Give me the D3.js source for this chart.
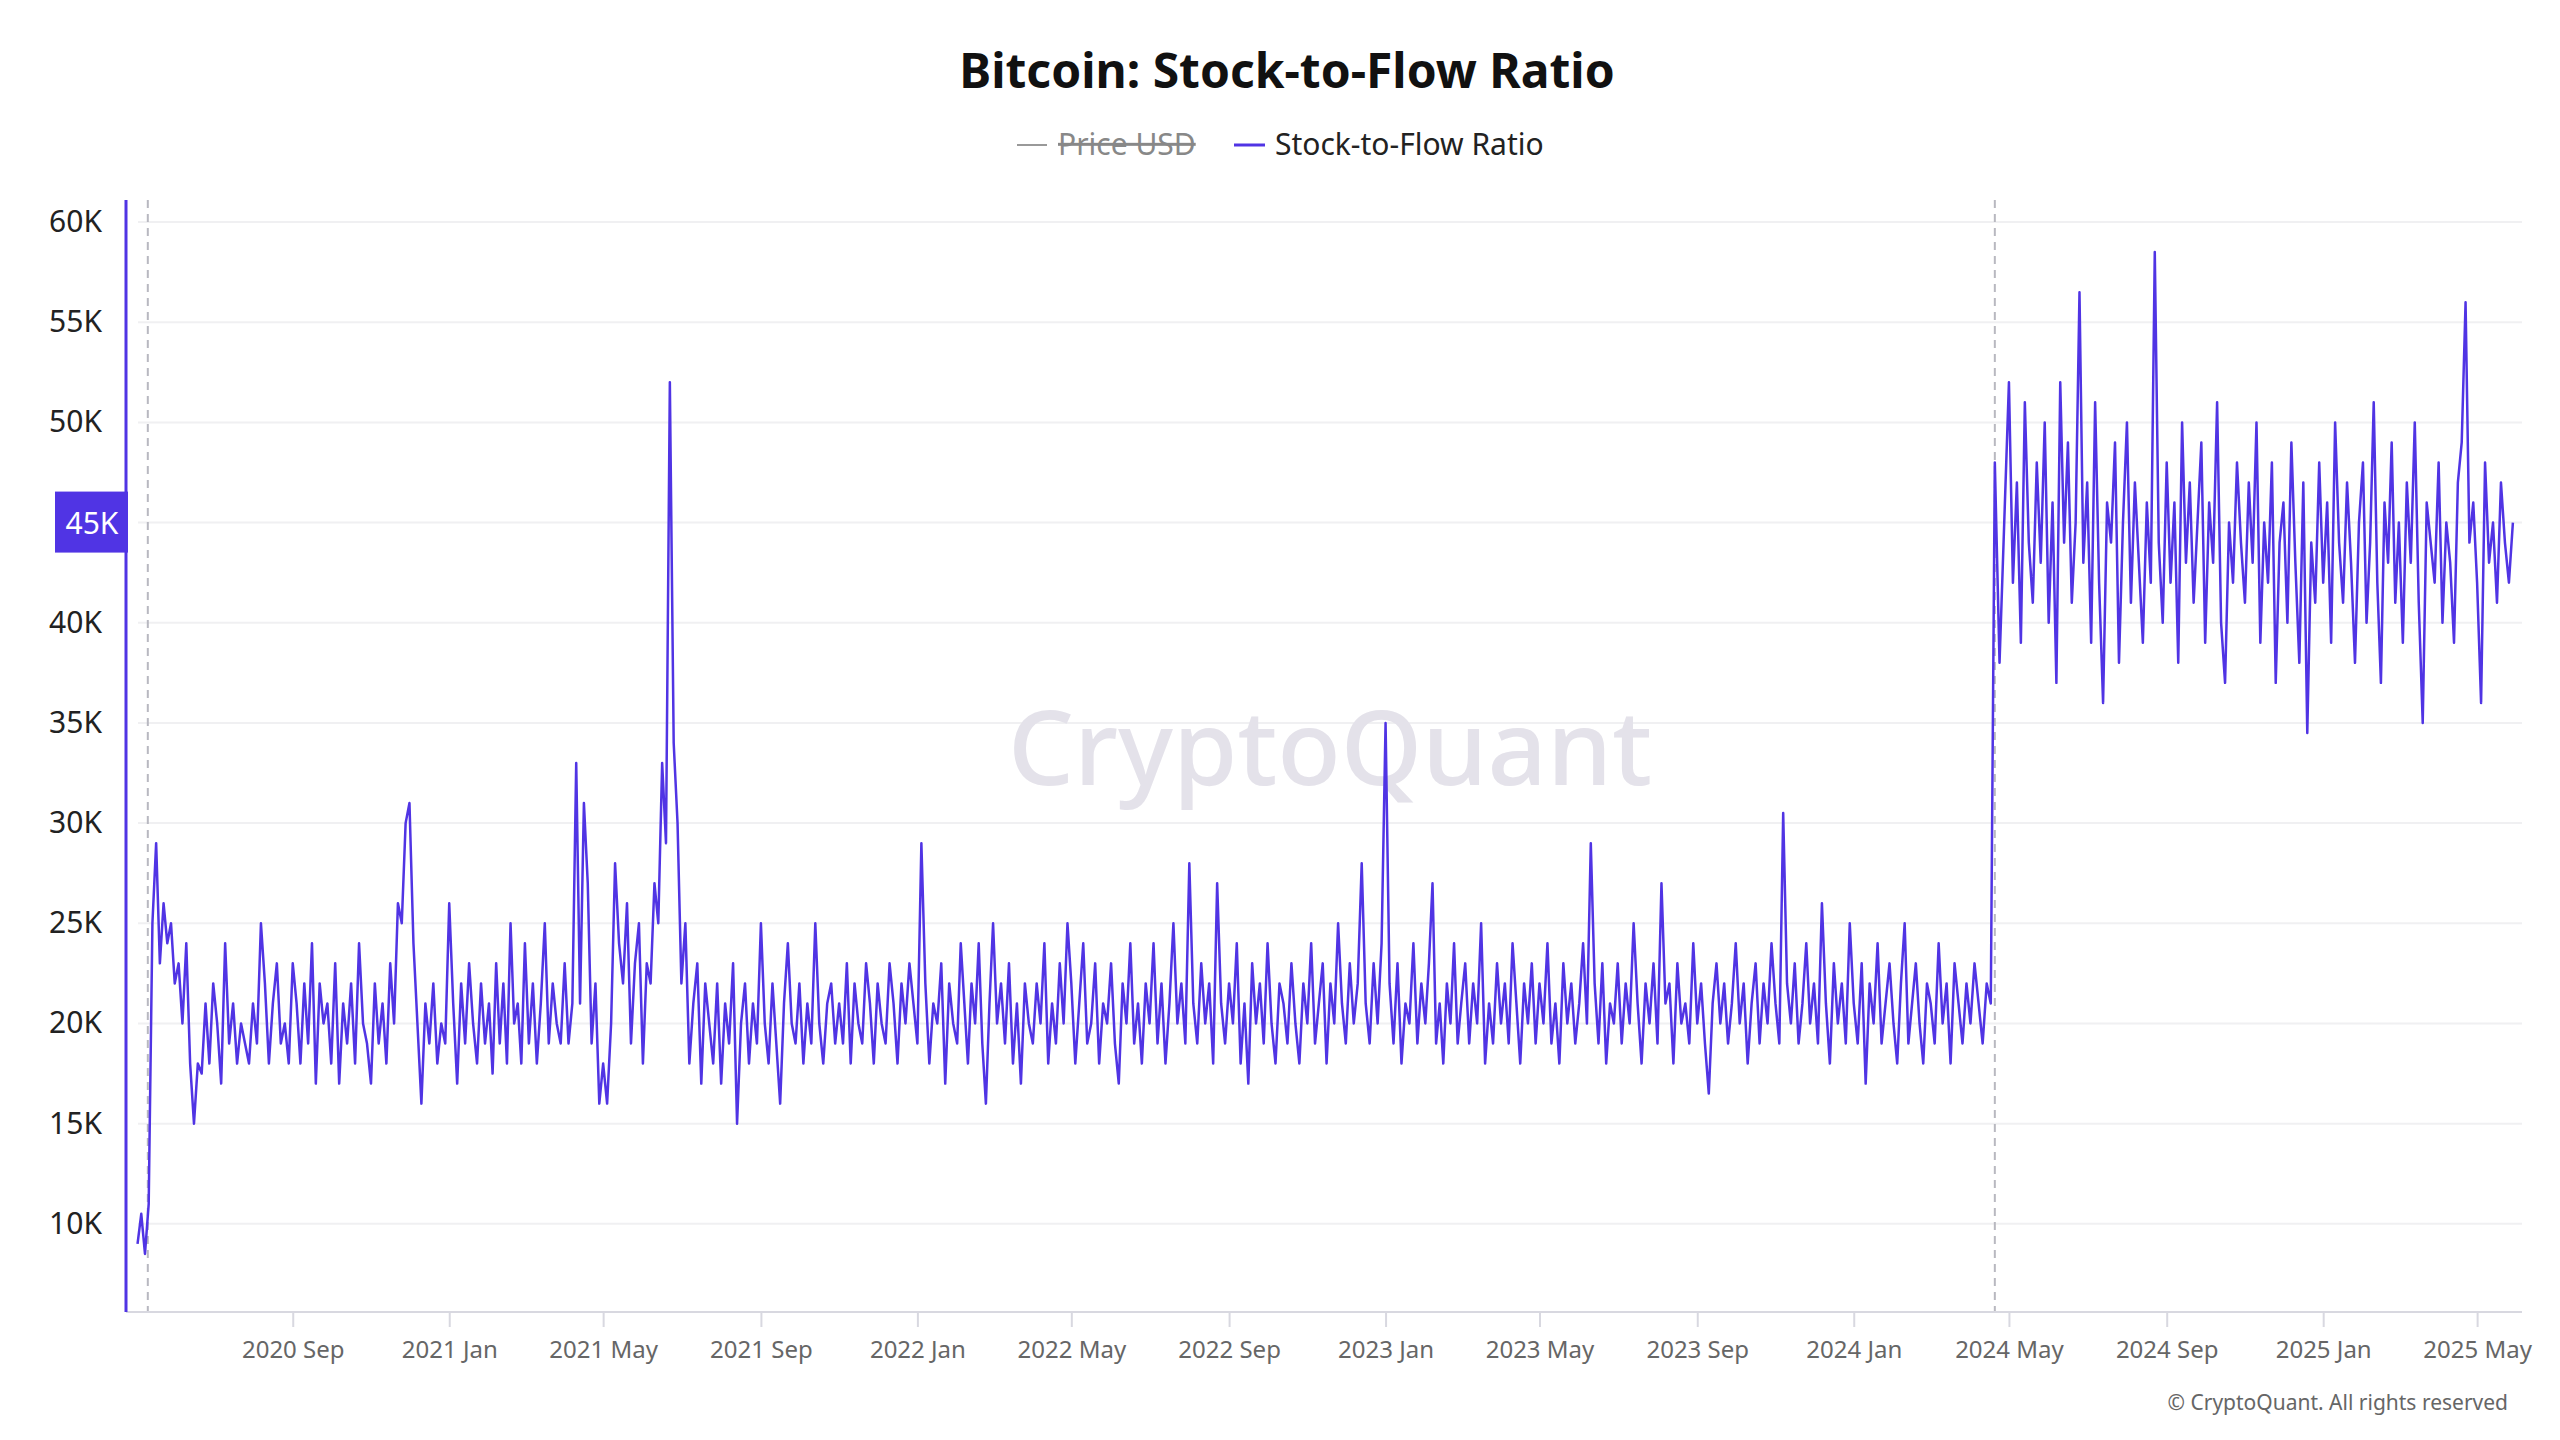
<!DOCTYPE html>
<html>
<head>
<meta charset="utf-8">
<script src="https://cdn.jsdelivr.net/npm/d3@7"></script>
<style>
  body { margin: 0; background: #fff; }
  svg { font-family: "Noto Sans", "Open Sans", sans-serif; }
</style>
</head>
<body>
<svg id="chart"></svg>
<script>
(function() {

    // Monthly rows, values in thousands, ~3-day sampling
    const monthsPre = [
        '2020-05','2020-06','2020-07','2020-08','2020-09','2020-10','2020-11','2020-12',
        '2021-01','2021-02','2021-03','2021-04','2021-05','2021-06','2021-07','2021-08',
        '2021-09','2021-10','2021-11','2021-12','2022-01','2022-02','2022-03','2022-04',
        '2022-05','2022-06','2022-07','2022-08','2022-09','2022-10','2022-11','2022-12',
        '2023-01','2023-02','2023-03','2023-04','2023-05','2023-06','2023-07','2023-08',
        '2023-09','2023-10','2023-11','2023-12','2024-01','2024-02','2024-03','2024-04'
    ];
    const ratioPre = [
        [9, 10.5, 8.5, 11, 25, 29, 23, 26, 24, 25],
        [22, 23, 20, 24, 18, 15, 18, 17.5, 21, 18],
        [22, 20, 17, 24, 19, 21, 18, 20, 19, 18],
        [21, 19, 25, 22, 18, 21, 23, 19, 20, 18],
        [23, 21, 18, 22, 19, 24, 17, 22, 20, 21],
        [18, 23, 17, 21, 19, 22, 18, 24, 20, 19],
        [17, 22, 19, 21, 18, 23, 20, 26, 25, 30],
        [31, 24, 20, 16, 21, 19, 22, 18, 20, 19],
        [26, 21, 17, 22, 19, 23, 20, 18, 22, 19],
        [21, 17.5, 23, 19, 22, 18, 25, 20, 21, 18],
        [24, 19, 22, 18, 21, 25, 19, 22, 20, 19],
        [23, 19, 21, 33, 21, 31, 27, 19, 22, 16],
        [18, 16, 20, 28, 24, 22, 26, 19, 23, 25],
        [18, 23, 22, 27, 25, 33, 29, 52, 34, 30],
        [22, 25, 18, 21, 23, 17, 22, 20, 18, 22],
        [17, 21, 19, 23, 15, 20, 22, 18, 21, 19],
        [25, 20, 18, 22, 19, 16, 21, 24, 20, 19],
        [22, 18, 21, 19, 25, 20, 18, 21, 22, 19],
        [21, 19, 23, 18, 22, 20, 19, 23, 21, 18],
        [22, 20, 19, 23, 21, 18, 22, 20, 23, 21],
        [19, 29, 22, 18, 21, 20, 23, 17, 22, 20],
        [19, 24, 21, 18, 22, 20, 24, 19, 16, 21],
        [25, 20, 22, 19, 23, 18, 21, 17, 22, 20],
        [19, 22, 20, 24, 18, 21, 19, 23, 20, 25],
        [22, 18, 21, 24, 19, 20, 23, 18, 21, 20],
        [23, 19, 17, 22, 20, 24, 19, 21, 18, 22],
        [20, 24, 19, 22, 18, 21, 25, 20, 22, 19],
        [28, 21, 19, 23, 20, 22, 18, 27, 21, 19],
        [22, 20, 24, 18, 21, 17, 23, 20, 22, 19],
        [24, 20, 18, 22, 21, 19, 23, 20, 18, 22],
        [20, 24, 19, 21, 23, 18, 22, 20, 25, 21],
        [19, 23, 20, 22, 28, 21, 19, 23, 20, 24],
        [35, 22, 19, 23, 18, 21, 20, 24, 19, 22],
        [20, 23, 27, 19, 21, 18, 22, 20, 24, 19],
        [21, 23, 19, 22, 20, 25, 18, 21, 19, 23],
        [20, 22, 19, 24, 21, 18, 22, 20, 23, 19],
        [22, 20, 24, 19, 21, 18, 23, 20, 22, 19],
        [21, 24, 20, 29, 22, 19, 23, 18, 21, 20],
        [23, 19, 22, 20, 25, 21, 18, 22, 20, 23],
        [19, 27, 21, 22, 18, 23, 20, 21, 19, 24],
        [20, 22, 19, 16.5, 21, 23, 20, 22, 19, 21],
        [24, 20, 22, 18, 21, 23, 19, 22, 20, 24],
        [21, 19, 30.5, 22, 20, 23, 19, 21, 24, 20],
        [22, 19, 26, 21, 18, 23, 20, 22, 19, 25],
        [21, 19, 23, 17, 22, 20, 24, 19, 21, 23],
        [20, 18, 22, 25, 19, 21, 23, 20, 18, 22],
        [21, 19, 24, 20, 22, 18, 23, 21, 19, 22],
        [20, 23, 21, 19, 22, 21]
    ];
    const monthsPost = [
        '2024-04','2024-05','2024-06','2024-07','2024-08','2024-09','2024-10','2024-11',
        '2024-12','2025-01','2025-02','2025-03','2025-04','2025-05'
    ];
    const ratioPost = [
        [48, 38, 45],
        [52, 42, 47, 39, 51, 44, 41, 48, 43, 50],
        [40, 46, 37, 52, 44, 49, 41, 45, 56.5, 43],
        [47, 39, 51, 42, 36, 46, 44, 49, 38, 45],
        [50, 41, 47, 43, 39, 46, 42, 58.5, 44, 40],
        [48, 42, 46, 38, 50, 43, 47, 41, 45, 49],
        [39, 46, 43, 51, 40, 37, 45, 42, 48, 44],
        [41, 47, 43, 50, 39, 45, 42, 48, 37, 44],
        [46, 40, 49, 43, 38, 47, 34.5, 44, 41, 48],
        [42, 46, 39, 50, 44, 41, 47, 43, 38, 45],
        [48, 40, 44, 51, 42, 37, 46, 43, 49, 41],
        [45, 39, 47, 43, 50, 41, 35, 46, 44, 42],
        [48, 40, 45, 43, 39, 47, 49, 56, 44, 46],
        [42, 36, 48, 43, 45, 41, 47, 44, 42, 45]
    ];
    // partial months: [first day, last day]
    const spanOverride = {
        'pre:2020-05': [3, 31],
        'pre:2024-04': [1, 19],
        'post:2024-04': [20, 30]
    };
    const halvings = ['2020-05-11', '2024-04-20'];
    const yTicks = [10, 15, 20, 25, 30, 35, 40, 45, 50, 55, 60];
    const xTickDates = ['2020-09','2021-01','2021-05','2021-09','2022-01','2022-05','2022-09',
        '2023-01','2023-05','2023-09','2024-01','2024-05','2024-09','2025-01','2025-05'];
    const highlightValue = 45;

    const parseMonth = d3.timeParse('%Y-%m');
    const parseDay = d3.timeParse('%Y-%m-%d');

    const expand = (tag, months, rows) => {
        const out = [];
        months.forEach((m, i) => {
            const start = parseMonth(m);
            const daysInMonth = d3.timeDay.count(start, d3.timeMonth.offset(start, 1));
            const span = spanOverride[tag + ':' + m] || [1, daysInMonth];
            const vals = rows[i];
            const step = (span[1] - span[0] + 1) / vals.length;
            vals.forEach((v, j) => {
                const date = new Date(start.getTime() + ((span[0] - 1) + j * step) * 864e5);
                out.push({ date, value: v * 1000 });
            });
        });
        return out;
    };
    const series = expand('pre', monthsPre, ratioPre).concat(expand('post', monthsPost, ratioPost));

    const w = 2560;
    const h = 1440;
    const left = 126, right = 2522, top = 200, bottom = 1312;
    const purple = '#5034e4';

    const svg = d3.select('#chart').attr('width', w).attr('height', h);

    const x = d3.scaleTime()
        .domain([parseDay('2020-04-24'), parseDay('2025-06-05')])
        .range([left, right]);
    const y = d3.scaleLinear()
        .domain([5600, 61100])
        .range([bottom, top]);

    // title + legend
    svg.append('text')
        .attr('x', 1287).attr('y', 88)
        .attr('text-anchor', 'middle')
        .attr('font-size', 48).attr('font-weight', 700).attr('fill', '#111')
        .text('Bitcoin: Stock-to-Flow Ratio');

    svg.append('line').attr('x1', 1017).attr('x2', 1047).attr('y1', 145).attr('y2', 145)
        .attr('stroke', '#999').attr('stroke-width', 2);
    svg.append('text').attr('x', 1058).attr('y', 155)
        .attr('font-size', 30).attr('fill', '#888')
        .attr('text-decoration', 'line-through')
        .text('Price USD');
    svg.append('line').attr('x1', 1234).attr('x2', 1265).attr('y1', 145).attr('y2', 145)
        .attr('stroke', purple).attr('stroke-width', 3);
    svg.append('text').attr('x', 1275).attr('y', 155)
        .attr('font-size', 30).attr('fill', '#222')
        .text('Stock-to-Flow Ratio');

    // gridlines
    svg.append('g').selectAll('line')
        .data(yTicks)
        .enter()
        .append('line')
        .attr('x1', left + 12).attr('x2', right)
        .attr('y1', d => y(d * 1000)).attr('y2', d => y(d * 1000))
        .attr('stroke', '#f0f0f2').attr('stroke-width', 2);

    // watermark
    svg.append('text')
        .attr('x', 1330).attr('y', 785)
        .attr('text-anchor', 'middle')
        .attr('font-size', 104).attr('font-weight', 500)
        .attr('fill', '#e4e2ea')
        .text('CryptoQuant');

    // halving markers
    svg.append('g').selectAll('line')
        .data(halvings)
        .enter()
        .append('line')
        .attr('x1', d => x(parseDay(d))).attr('x2', d => x(parseDay(d)))
        .attr('y1', top).attr('y2', bottom)
        .attr('stroke', '#b8b8c0').attr('stroke-width', 2)
        .attr('stroke-dasharray', '8,6');

    // x axis
    const xAxis = d3.axisBottom(x)
        .tickValues(xTickDates.map(parseMonth))
        .tickFormat(d3.timeFormat('%Y %b'))
        .tickSize(15)
        .tickPadding(14);
    const gx = svg.append('g').attr('transform', `translate(0, ${bottom})`).call(xAxis);
    gx.select('.domain').attr('stroke', '#d8d8e0').attr('stroke-width', 2)
        .attr('d', `M${left},0H${right}`);
    gx.selectAll('.tick line').attr('stroke', '#d8d8e0').attr('stroke-width', 2);
    gx.selectAll('.tick text').attr('font-size', 24).attr('fill', '#666')
        .attr('font-family', '"Noto Sans", sans-serif');

    // y labels (45K sits behind the highlight box)
    svg.append('g').selectAll('text')
        .data(yTicks.filter(d => d !== highlightValue))
        .enter()
        .append('text')
        .attr('x', 102).attr('y', d => y(d * 1000) + 10)
        .attr('text-anchor', 'end')
        .attr('font-size', 30).attr('fill', '#222')
        .text(d => d + 'K');

    // line
    const line = d3.line()
        .x(d => x(d.date))
        .y(d => y(d.value));
    svg.append('path')
        .datum(series)
        .attr('fill', 'none')
        .attr('stroke', purple)
        .attr('stroke-width', 2.5)
        .attr('stroke-linejoin', 'round')
        .attr('d', line);

    // left axis bar + highlight
    svg.append('line').attr('x1', left).attr('x2', left).attr('y1', top).attr('y2', bottom)
        .attr('stroke', purple).attr('stroke-width', 3);
    const hy = y(highlightValue * 1000);
    svg.append('rect')
        .attr('x', 55).attr('y', hy - 31).attr('width', 73).attr('height', 61)
        .attr('fill', purple);
    svg.append('text')
        .attr('x', 92).attr('y', hy + 11)
        .attr('text-anchor', 'middle')
        .attr('font-size', 30).attr('fill', '#fff')
        .text(highlightValue + 'K');

    svg.append('text')
        .attr('x', 2508).attr('y', 1410)
        .attr('text-anchor', 'end')
        .attr('font-size', 21).attr('fill', '#666')
        .text('© CryptoQuant. All rights reserved');

})();
</script>
</body>
</html>
